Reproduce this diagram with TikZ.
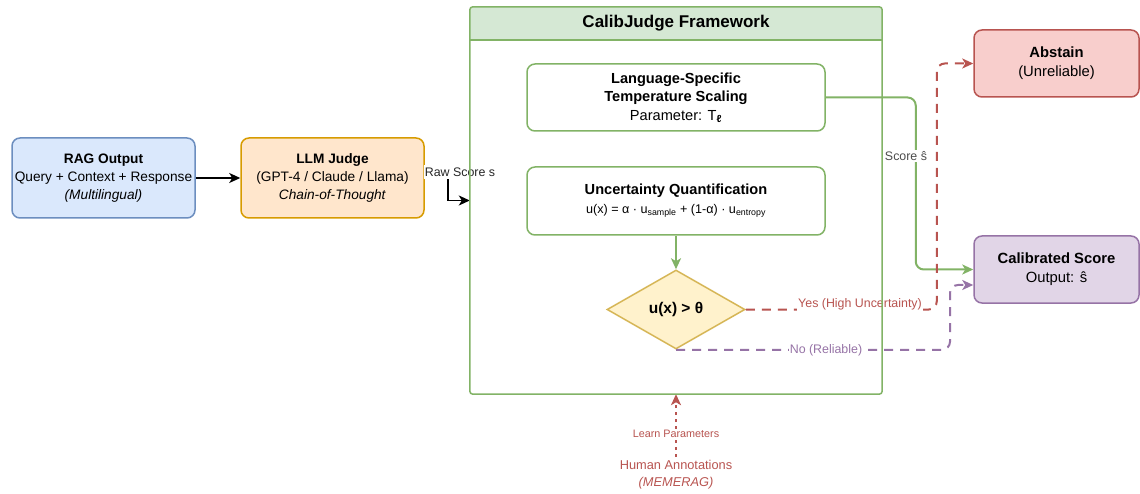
\documentclass[tikz,border=0pt]{standalone}
\usepackage{fontspec}
\setmainfont{Liberation Sans}
\usetikzlibrary{arrows.meta, shapes.geometric}
\definecolor{blueF}{HTML}{DAE8FC}
\definecolor{blueD}{HTML}{6C8EBF}
\definecolor{orangeF}{HTML}{FFE6CC}
\definecolor{orangeD}{HTML}{D79B00}
\definecolor{greenF}{HTML}{D5E8D4}
\definecolor{greenD}{HTML}{82B366}
\definecolor{yellowF}{HTML}{FFF2CC}
\definecolor{yellowD}{HTML}{D6B656}
\definecolor{redF}{HTML}{F8CECC}
\definecolor{redD}{HTML}{B85450}
\definecolor{purpleF}{HTML}{E1D5E7}
\definecolor{purpleD}{HTML}{9673A6}

\begin{document}
\begin{tikzpicture}[x=1pt, y=-1pt,
  box/.style={draw, rounded corners=8pt, line width=1.5pt, align=center, inner sep=2pt},
  outbox/.style={box, minimum width=183pt, minimum height=80pt, font=\fontsize{13.7}{18}\selectfont},
  inbox/.style={box, draw=greenD, fill=white, minimum width=298pt, minimum height=67pt, font=\fontsize{14.6}{18.5}\selectfont},
  endbox/.style={box, minimum width=165pt, minimum height=67pt, font=\fontsize{14.8}{19}\selectfont},
  lbl/.style={inner sep=1pt, font=\fontsize{12.4}{14}\selectfont},
  tip/.style={-{Stealth[length=11pt, width=10pt, inset=3pt]}},
  solidedge/.style={tip, line width=2pt},
  dashedge/.style={tip, line width=2pt, dash pattern=on 9pt off 7pt, rounded corners=8pt},
]
\useasboundingbox (0,0) rectangle (1140,494);

% framework container
\node[fill=white, minimum width=412pt, minimum height=387pt, inner sep=0pt] (cj) at (676,200.5) {};
\node[fill=greenF, rounded corners=3pt, minimum width=412pt, minimum height=33pt, inner sep=0pt,
  anchor=north, font=\fontsize{17}{20}\selectfont\bfseries] (cjhead) at (cj.north) {CalibJudge Framework};
\fill[greenF] ([yshift=6pt]cjhead.south west) rectangle (cjhead.south east);
\draw[greenD, line width=1.5pt] (cjhead.south west) -- (cjhead.south east);

% boxes
\node[outbox, draw=blueD, fill=blueF] (rag) at (103.5,178)
  {\textbf{RAG Output}\\Query + Context + Response\\\textit{(Multilingual)}};
\node[outbox, draw=orangeD, fill=orangeF] (llm) at (332.5,178)
  {\textbf{LLM Judge}\\(GPT-4 / Claude / Llama)\\\textit{Chain-of-Thought}};
\node[inbox] (tsc) at (676,97.5)
  {\textbf{Language-Specific}\\\textbf{Temperature Scaling}\\Parameter: T\textsubscript{\textbf{ℓ}}};
\node[inbox, minimum height=68pt] (unc) at (676,201)
  {\textbf{Uncertainty Quantification}\\[0pt]{\fontsize{12.6}{14}\selectfont u(x) = α · u\textsubscript{sample} + (1-α) · u\textsubscript{entropy}}};
\node[draw=yellowD, fill=yellowF, diamond, aspect=1.75, minimum width=138pt, minimum height=79pt,
  inner sep=0pt, line width=1.5pt, font=\fontsize{15.5}{18}\selectfont\bfseries] (dec) at (676,309.5) {u(x) > θ};
\node[endbox, draw=redD, fill=redF] (abst) at (1056.5,63.5) {\textbf{Abstain}\\(Unreliable)};
\node[endbox, draw=purpleD, fill=purpleF] (cal) at (1056.5,269.5) {\textbf{Calibrated Score}\\Output: ŝ};
\node[align=center, text=redD, font=\fontsize{12.8}{17}\selectfont] (hum) at (676,475)
  {Human Annotations\\\textit{(MEMERAG)}};

% connectors
\draw[solidedge, line width=1.5pt] (rag) -- (llm);
\draw[solidedge, line width=1.5pt] (llm.east) -- ++(23,0) |- (cj.west);
\node[lbl, inner ysep=3pt, fill=white, text=black!85] (rawlbl) at (460,172) {Raw Score s};
\draw[solidedge, greenD, rounded corners=8pt] (tsc.east) -- ++(90,0) |- (cal.west);
\node[lbl, fill=white, text=black!70] (scorelbl) at (906,156) {Score ŝ};
\draw[solidedge, greenD] (unc) -- (dec);
\draw[dashedge, redD] (dec.east) -- ++(191,0) |- (abst.west);
\node[lbl, fill=white, text=redD] (yeslbl) at (860,304) {Yes (High Uncertainty)};
\draw[dashedge, purpleD] (dec.south) -- ++(274,0) |- ([yshift=-15.5pt]cal.west);
\node[lbl, fill=white, text=purpleD] (nolbl) at (826,350) {No (Reliable)};
\draw[tip, redD, line width=2pt, dash pattern=on 3pt off 4pt] (hum.north) -- (cj.south)
  node[pos=0.37, fill=white, inner sep=1pt, font=\fontsize{10.8}{12}\selectfont] (learnlbl) {Learn Parameters};

% container outline on top
\draw[greenD, line width=1.5pt, rounded corners=3pt] (cj.north west) rectangle (cj.south east);
\end{tikzpicture}
\end{document}
